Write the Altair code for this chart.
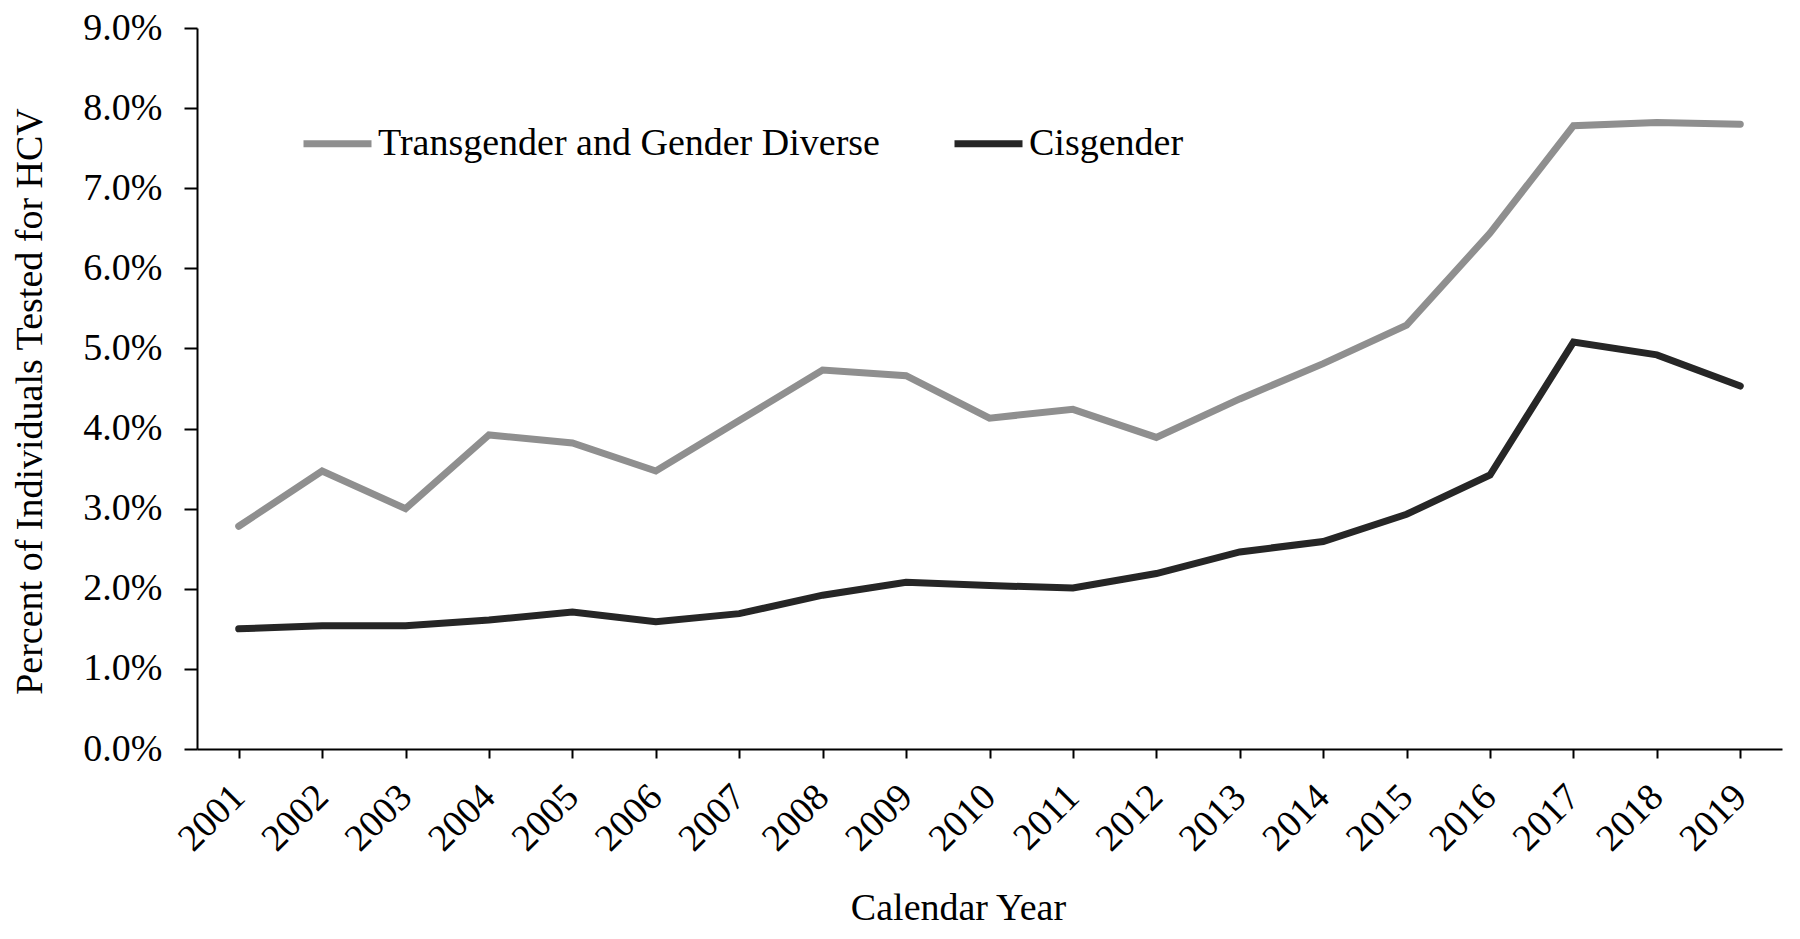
import altair as alt
import pandas as pd

years = ["2001", "2002", "2003", "2004", "2005", "2006", "2007", "2008", "2009", "2010",
         "2011", "2012", "2013", "2014", "2015", "2016", "2017", "2018", "2019"]
tgd = [2.78, 3.47, 3.00, 3.92, 3.82, 3.47, 4.10, 4.73, 4.66, 4.13,
       4.24, 3.89, 4.37, 4.81, 5.29, 6.44, 7.78, 7.82, 7.80]
cis = [1.50, 1.54, 1.54, 1.61, 1.71, 1.59, 1.69, 1.92, 2.08, 2.04,
       2.01, 2.19, 2.46, 2.59, 2.93, 3.42, 5.08, 4.92, 4.53]
series = ["Transgender and Gender Diverse", "Cisgender"]
colors = ["#8f8f8f", "#262626"]
y_ticks = [0.0, 0.01, 0.02, 0.03, 0.04, 0.05, 0.06, 0.07, 0.08, 0.09]

rows = []
for s, vals in zip(series, [tgd, cis]):
    for yr, v in zip(years, vals):
        rows.append({"year": yr, "value": v / 100.0, "series": s})
df = pd.DataFrame(rows)

FONT = "Liberation Serif"

chart = alt.Chart(df).mark_line(strokeWidth=7, strokeCap="round").encode(
    x=alt.X(
        "year:O", sort=years,
        scale=alt.Scale(type="point", padding=0.5),
        axis=alt.Axis(
            title="Calendar Year", labelAngle=-45, labelAlign="right", labelBaseline="middle",
            labelPadding=33, tickSize=9, tickWidth=2, domainWidth=2,
            domainColor="black", tickColor="black", grid=False,
            labelFont=FONT, labelFontSize=38, labelColor="black",
            titleFont=FONT, titleFontSize=38, titleFontWeight="normal", titleColor="black",
            titleX=761, titleY=170, titleAlign="center", titleBaseline="alphabetic",
        ),
    ),
    y=alt.Y(
        "value:Q", scale=alt.Scale(domain=[0, 0.09]),
        axis=alt.Axis(
            values=y_ticks, format=".1%", title="Percent of Individuals Tested for HCV",
            tickSize=13, tickWidth=2, domainWidth=2, labelPadding=22,
            domainColor="black", tickColor="black", grid=False,
            labelFont=FONT, labelFontSize=38, labelColor="black",
            titleFont=FONT, titleFontSize=38, titleFontWeight="normal", titleColor="black",
            titleX=-167, titleY=373, titleAngle=-90, titleAlign="center", titleBaseline="middle",
        ),
    ),
    color=alt.Color(
        "series:N",
        scale=alt.Scale(domain=series, range=colors),
        legend=alt.Legend(
            title=None, orient="none", legendX=103, legendY=78, direction="horizontal",
            symbolType="stroke", symbolSize=4624, symbolStrokeWidth=7,
            labelFont=FONT, labelFontSize=38, labelColor="black", labelLimit=2000,
            labelOffset=3, columnPadding=60, padding=0,
        ),
    ),
).properties(
    width=1585, height=721,
    padding={"left": 189, "top": 20, "right": 10, "bottom": 185},
    autosize=alt.AutoSizeParams(type="none"),
).configure_view(stroke=None)

chart.save("out.html", embed_options={"renderer": "svg", "actions": False})
